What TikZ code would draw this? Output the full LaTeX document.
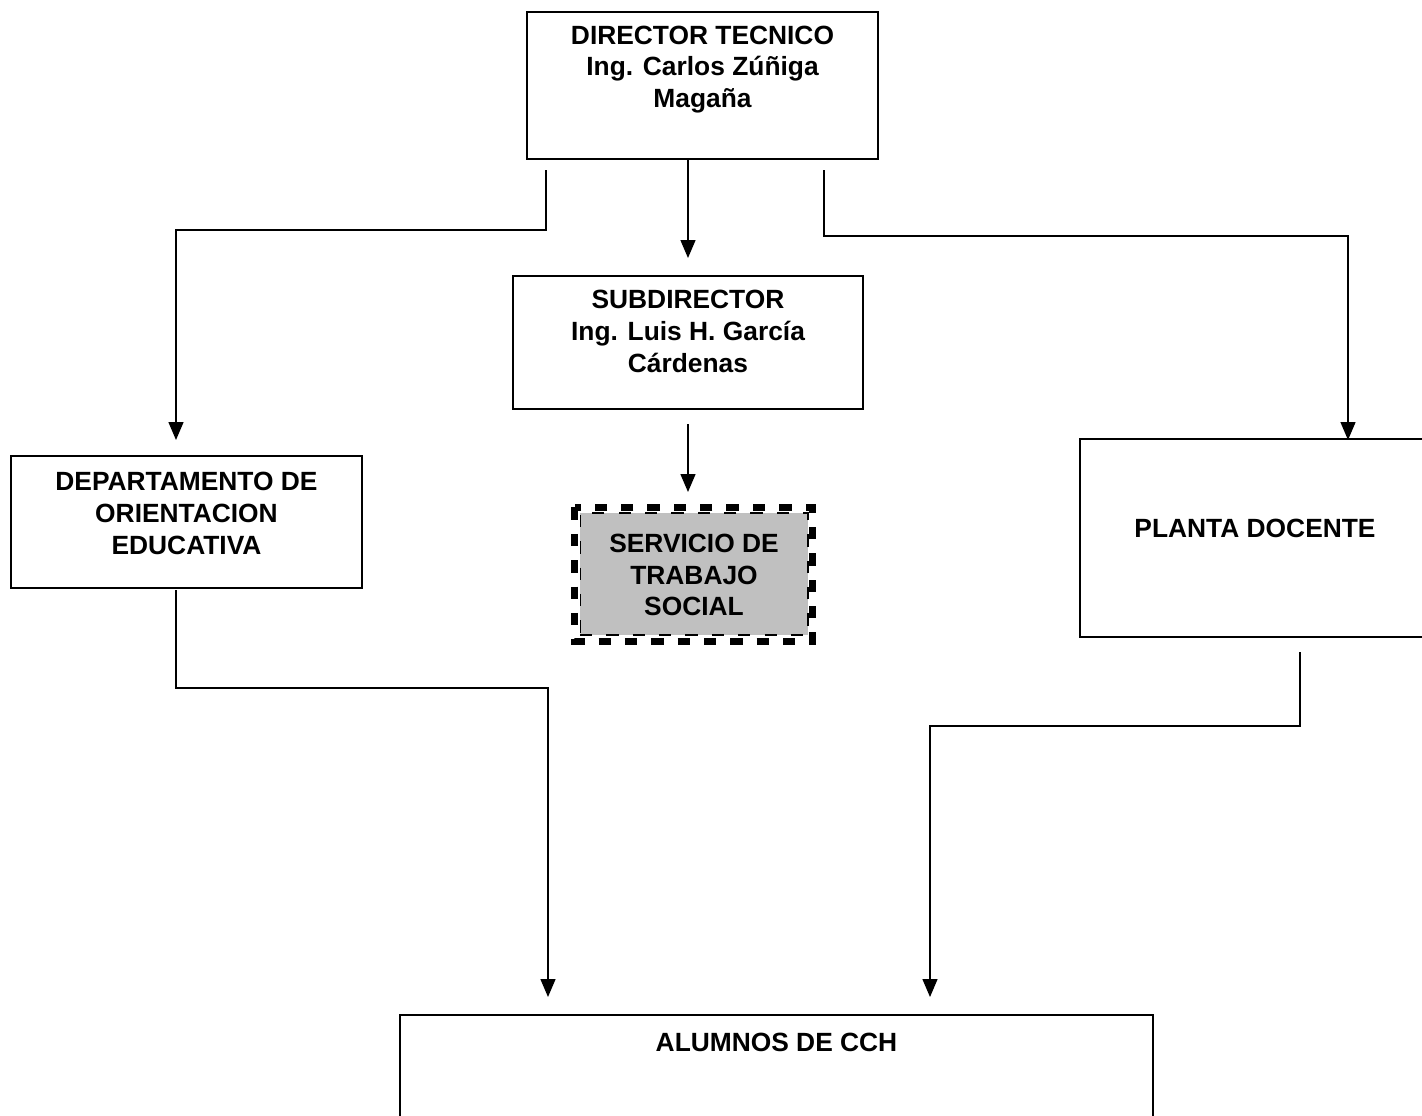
\documentclass[tikz,border=0pt]{standalone}
\usepackage{fontspec}
\setmainfont{Liberation Sans}
\usetikzlibrary{arrows.meta}
\definecolor{servgray}{RGB}{192,192,192}

\begin{document}
\begin{tikzpicture}[x=0.02cm,y=-0.02cm,
    box/.style={draw,line width=1.1pt,inner sep=0pt},
    txt/.style={align=center,inner sep=0pt,font=\fontsize{15}{18}\selectfont\bfseries},
    arr/.style={line width=0.8pt,-{Triangle[length=0.36cm,width=0.3cm]}}]
    \useasboundingbox (0,0) rectangle (1422,1115);

    \node[box,minimum width=7.02cm,minimum height=2.94cm] (dir) at (702.5,85.5) {};
    \node[txt] (dirtxt) at (702.5,69.5) {DIRECTOR TECNICO\\Ing. Carlos Zúñiga\\Magaña};

    \node[box,minimum width=7cm,minimum height=2.66cm] (sub) at (688,342.5) {};
    \node[txt] (subtxt) at (688,331.5) {SUBDIRECTOR\\Ing. Luis H. García\\Cárdenas};

    \node[box,minimum width=7.02cm,minimum height=2.64cm] (dept) at (186.5,522) {};
    \node[txt] (depttxt) at (186.5,513.5) {DEPARTAMENTO DE\\ORIENTACION\\EDUCATIVA};

    \node[box,minimum width=7cm,minimum height=3.96cm] (plan) at (1255,538) {};
    \node[txt] (plantxt) at (1255,528) {PLANTA DOCENTE};

    \node[box,minimum width=15.06cm,minimum height=2.8cm] (alum) at (776.5,1085) {};
    \node[txt] (alumtxt) at (776.5,1042) {ALUMNOS DE CCH};

    \node[fill=servgray,draw,line width=0.6pt,dash pattern=on 7pt off 8pt,
        minimum width=4.56cm,minimum height=2.44cm,inner sep=0pt] (serv) at (694,574) {};
    \draw[line width=3.6pt,dash pattern=on 7pt off 8pt]
        ([shift={(-5,-5)}]serv.north west) rectangle ([shift={(4,6)}]serv.south east);
    \node[txt] (servtxt) at (694,575) {SERVICIO DE\\TRABAJO\\SOCIAL};

    \coordinate (dirl) at (546,170);
    \coordinate (dirr) at (824,170);
    \coordinate (deptin) at (176,440);
    \coordinate (planin) at (1348,440);
    \coordinate (subin) at (688,258);
    \coordinate (subout) at (688,424);
    \coordinate (servin) at (688,492);
    \coordinate (deptout) at (176,590);
    \coordinate (planout) at (1300,652);
    \coordinate (aluml) at (548,997);
    \coordinate (alumr) at (930,997);

    \draw[arr] (dirl) -- (546,230) -| (deptin);
    \draw[arr] (sub.north |- dir.south) -- (subin);
    \draw[arr] (dirr) -- (824,236) -| (planin);
    \draw[arr] (subout) -- (servin);
    \draw[arr] (deptout) -- (176,688) -| (aluml);
    \draw[arr] (planout) -- (1300,726) -| (alumr);
\end{tikzpicture}
\end{document}
